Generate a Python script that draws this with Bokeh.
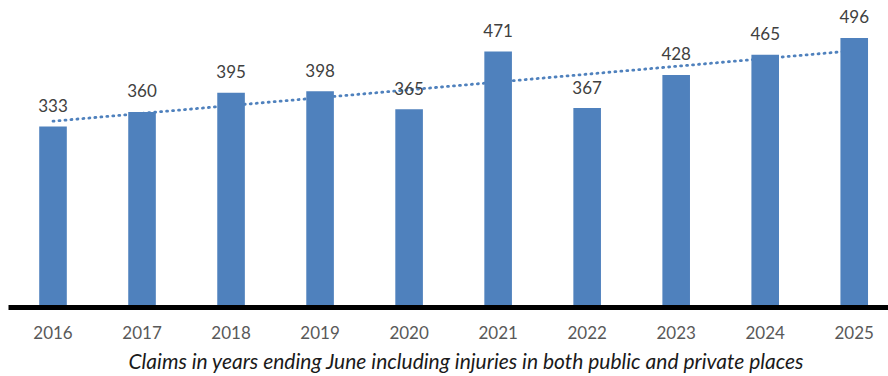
import numpy as np
from bokeh.plotting import figure
from bokeh.models import ColumnDataSource, Range1d, FixedTicker, Title
from bokeh.core.properties import value
from bokeh.embed import file_html
from bokeh.resources import INLINE

# Claims per year (years ending June)
years = ["2016", "2017", "2018", "2019", "2020", "2021", "2022", "2023", "2024", "2025"]
claims = [333, 360, 395, 398, 365, 471, 367, 428, 465, 496]
caption = "Claims in years ending June including injuries in both public and private places"

BAR_COLOR = "#4F81BD"
FONT = "Lato"

x = np.arange(len(years))
src = ColumnDataSource(dict(x=x, claims=claims, label=[str(v) for v in claims]))

# Linear trend through the yearly values
slope, intercept = np.polyfit(x, claims, 1)
trend_x = [x[0], x[-1]]
trend_y = [intercept + slope * x[0], intercept + slope * x[-1]]

p = figure(
    width=888, height=376,
    x_range=Range1d(-0.5, 9.385), y_range=Range1d(0, 565),
    output_backend="svg", toolbar_location=None,
    min_border_left=8, min_border_right=0, min_border_top=0, min_border_bottom=0,
)
p.outline_line_color = None
p.grid.visible = False
p.yaxis.visible = False

# Dotted trend line sits behind the bars
p.line(trend_x, trend_y, line_color=BAR_COLOR, line_width=2.8,
       line_dash="1 5", line_cap="round")

p.vbar(x="x", top="claims", width=0.31, bottom=0, source=src,
       fill_color=BAR_COLOR, line_color=None)

p.text(x="x", y="claims", text="label", source=src,
       text_align="center", text_baseline="alphabetic", y_offset=-21,
       text_font=value(FONT), text_font_size="17px", text_color="#404040")

ax = p.xaxis[0]
ax.ticker = FixedTicker(ticks=list(x))
ax.major_label_overrides = {int(i): y for i, y in zip(x, years)}
ax.axis_line_width = 5
ax.axis_line_color = "black"
ax.major_tick_line_color = None
ax.minor_tick_line_color = None
ax.major_label_standoff = 12
ax.major_label_text_font = FONT
ax.major_label_text_font_size = "17px"
ax.major_label_text_color = "#595959"

# Caption under the year labels
p.add_layout(Title(text=caption, align="left", offset=120, standoff=8,
                   text_font=FONT, text_font_style="italic",
                   text_font_size="21px", text_color="#1a1a1a"), "below")

open("out.html", "w").write(file_html(p, INLINE))
